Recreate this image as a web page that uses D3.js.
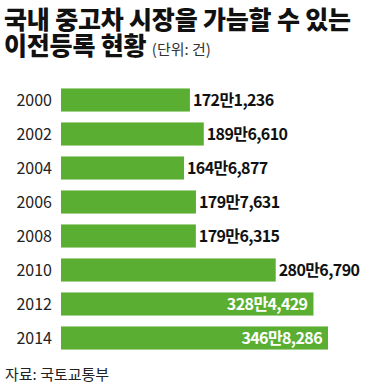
<!DOCTYPE html>
<html>
<head>
<meta charset="utf-8">
<script src="https://cdn.jsdelivr.net/npm/d3@7"></script>
<style>
  body { margin: 0; background: #fff; }
  svg { display: block; font-family: "Noto Sans CJK KR", "Noto Sans", sans-serif; }
</style>
</head>
<body>
<svg id="chart" width="372" height="388"></svg>
<script>
const years = ["2000", "2002", "2004", "2006", "2008", "2010", "2012", "2014"]
const counts = [1721236, 1896610, 1646877, 1797631, 1796315, 2806790, 3284429, 3468286]
const labels = ["172만1,236", "189만6,610", "164만6,877", "179만7,631", "179만6,315", "280만6,790", "328만4,429", "346만8,286"]

const svg = d3.select("#chart")
const green = "#5aaf32"

// title, both lines in one text
let title = svg.append("text")
    .attr("x", 4).attr("y", 29)
    .attr("fill", "#111")
title.append("tspan")
    .attr("font-size", 25).attr("font-weight", 900)
    .attr("letter-spacing", -0.2)
    .text("국내 중고차 시장을 가늠할 수 있는")
title.append("tspan")
    .attr("x", 4).attr("dy", 26)
    .attr("font-size", 25).attr("font-weight", 900)
    .attr("letter-spacing", -0.2)
    .text("이전등록 현황 ")
title.append("tspan")
    .attr("font-size", 15).attr("font-weight", 400).attr("fill", "#333")
    .text("(단위: 건)")

let data = years.map((y, i) => ({ year: y, value: counts[i], label: labels[i] }))

let y = d3.scaleBand()
    .domain(years)
    .range([83, 355])
    .paddingInner(0.32)
    .paddingOuter(0.16)

let x = d3.scaleLinear()
    .domain([90000, d3.max(counts)])
    .range([61, 328])

let rows = svg.append("g").selectAll("g")
    .data(data)
    .enter().append("g")

rows.append("rect")
    .attr("x", x(90000))
    .attr("y", d => y(d.year))
    .attr("width", d => x(d.value) - x(90000))
    .attr("height", y.bandwidth())
    .attr("fill", green)

rows.append("text")
    .attr("x", 52)
    .attr("y", d => y(d.year) + y.bandwidth() / 2)
    .attr("dy", "0.36em")
    .attr("text-anchor", "end")
    .attr("font-size", 16)
    .attr("fill", "#222")
    .text(d => d.year)

rows.append("text")
    .attr("x", d => d.value > 3000000 ? x(d.value) - 6 : x(d.value) + 3)
    .attr("y", d => y(d.year) + y.bandwidth() / 2)
    .attr("dy", "0.36em")
    .attr("text-anchor", d => d.value > 3000000 ? "end" : "start")
    .attr("font-size", 16)
    .attr("font-weight", 700)
    .attr("letter-spacing", -0.6)
    .attr("fill", d => d.value > 3000000 ? "#fff" : "#111")
    .text(d => d.label)

svg.append("text")
    .attr("x", 5).attr("y", 380)
    .attr("font-size", 15)
    .attr("fill", "#222")
    .text("자료: 국토교통부")
</script>
</body>
</html>
